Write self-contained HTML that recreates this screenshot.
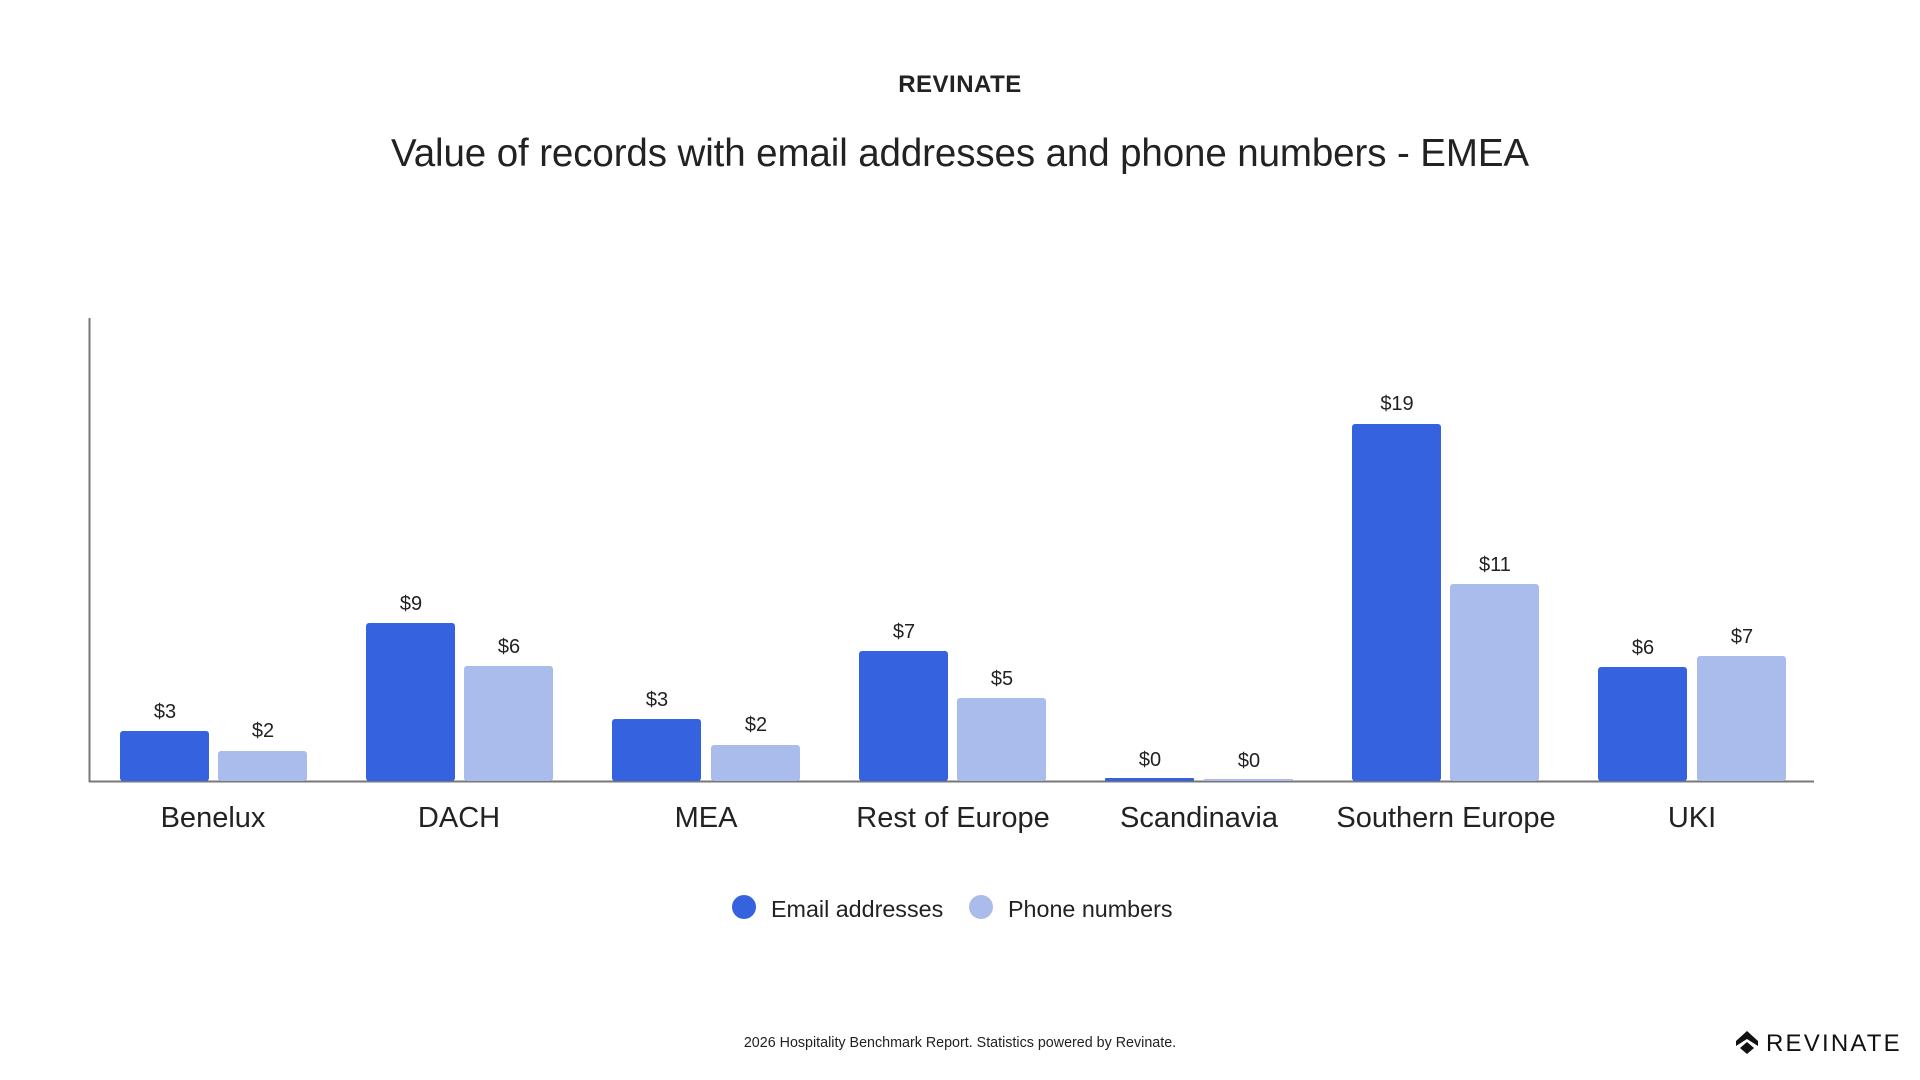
<!DOCTYPE html>
<html><head><meta charset="utf-8"><style>
html,body{margin:0;padding:0;background:#fff;}
svg{display:block;font-family:"Liberation Sans",sans-serif;}
</style></head><body>
<svg width="1920" height="1080" viewBox="0 0 1920 1080" xmlns="http://www.w3.org/2000/svg">
<text x="960" y="92" text-anchor="middle" font-size="24" font-weight="bold" fill="#222" letter-spacing="0.5">REVINATE</text>
<text x="960" y="166" text-anchor="middle" font-size="38.5" fill="#222" letter-spacing="-0.1">Value of records with email addresses and phone numbers  - EMEA</text>
<line x1="89.5" y1="318" x2="89.5" y2="782" stroke="#777" stroke-width="2"/>
<line x1="89" y1="781.5" x2="1814" y2="781.5" stroke="#777" stroke-width="2"/>
<g fill="#3563E0">
<rect x="120" y="731" width="89" height="50" rx="3"/>
<rect x="366" y="623" width="89" height="158" rx="3"/>
<rect x="612" y="719" width="89" height="62" rx="3"/>
<rect x="859" y="651" width="89" height="130" rx="3"/>
<rect x="1105" y="778" width="89" height="3" rx="1"/>
<rect x="1352" y="424" width="89" height="357" rx="3"/>
<rect x="1598" y="667" width="89" height="114" rx="3"/>
</g>
<g fill="#A9BCEB">
<rect x="218" y="751" width="89" height="30" rx="3"/>
<rect x="464" y="666" width="89" height="115" rx="3"/>
<rect x="711" y="745" width="89" height="36" rx="3"/>
<rect x="957" y="698" width="89" height="83" rx="3"/>
<rect x="1204" y="779" width="89" height="2" rx="1"/>
<rect x="1450" y="584" width="89" height="197" rx="3"/>
<rect x="1697" y="656" width="89" height="125" rx="3"/>
</g>
<g font-size="20" fill="#222" text-anchor="middle">
<text x="165" y="718">$3</text><text x="263" y="737">$2</text>
<text x="411" y="610">$9</text><text x="509" y="653">$6</text>
<text x="657" y="706">$3</text><text x="756" y="731">$2</text>
<text x="904" y="638">$7</text><text x="1002" y="685">$5</text>
<text x="1150" y="766">$0</text><text x="1249" y="767">$0</text>
<text x="1397" y="410">$19</text><text x="1495" y="571">$11</text>
<text x="1643" y="654">$6</text><text x="1742" y="643">$7</text>
</g>
<g font-size="29" fill="#222" text-anchor="middle">
<text x="213" y="827">Benelux</text>
<text x="459" y="827">DACH</text>
<text x="706" y="827">MEA</text>
<text x="953" y="827">Rest of Europe</text>
<text x="1199" y="827">Scandinavia</text>
<text x="1446" y="827">Southern Europe</text>
<text x="1692" y="827">UKI</text>
</g>
<circle cx="744" cy="907" r="12" fill="#3563E0"/>
<text x="771" y="917" font-size="23.3" fill="#222">Email addresses</text>
<circle cx="981" cy="907" r="12" fill="#A9BCEB"/>
<text x="1008" y="917" font-size="23.3" fill="#222">Phone numbers</text>
<text x="960" y="1047" text-anchor="middle" font-size="14.3" fill="#222">2026 Hospitality Benchmark Report. Statistics powered by Revinate.</text>
<g fill="#111">
<path d="M1747 1031 L1758 1041 L1758 1046 L1747 1039 L1736 1046 L1736 1041 Z"/>
<path d="M1747 1042 L1754 1048 L1747 1054 L1740 1048 Z"/>
</g>
<text x="1766" y="1051" font-size="24" fill="#111" letter-spacing="2.2">REVINATE</text>
</svg>
</body></html>
